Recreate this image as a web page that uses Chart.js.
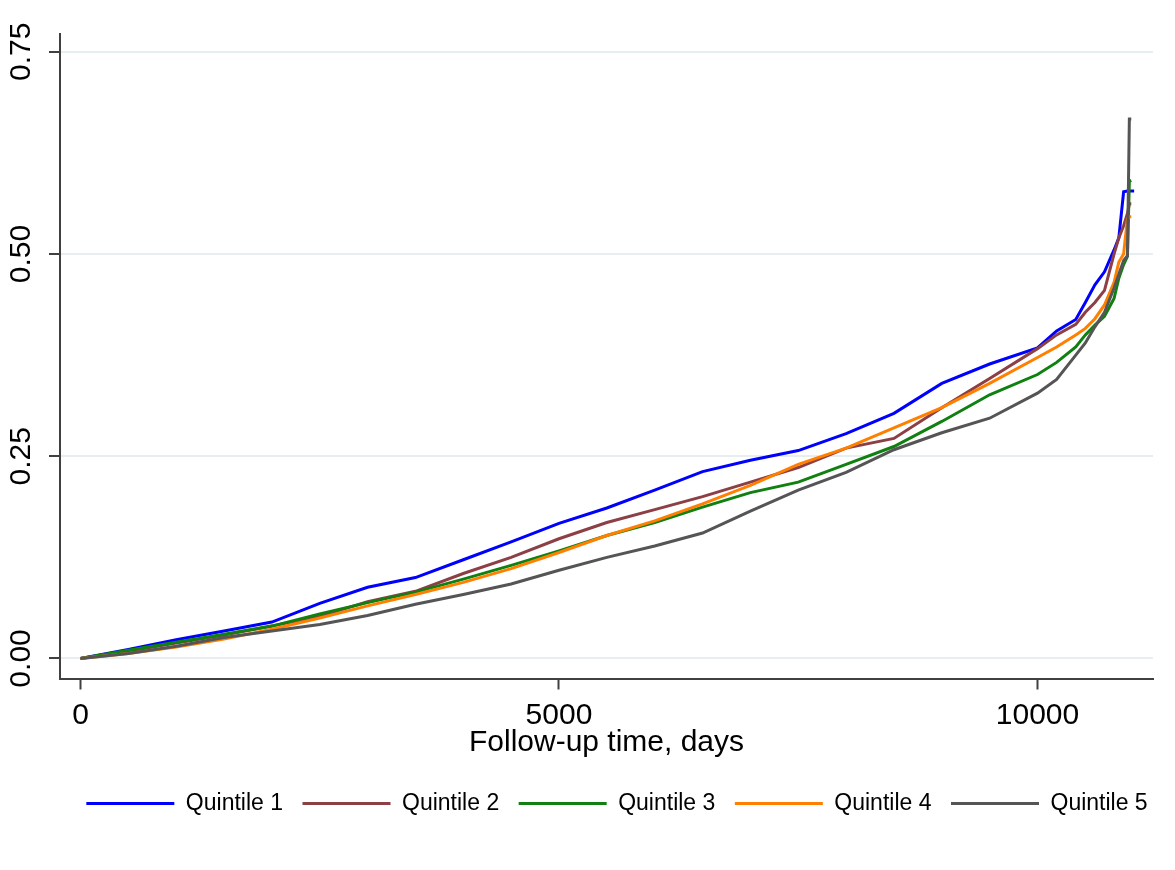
<!DOCTYPE html>
<html>
<head>
<meta charset="utf-8">
<script src="https://cdn.jsdelivr.net/npm/chart.js@4.4.1/dist/chart.umd.min.js"></script>
<style>
  body { margin: 0; background: #fff; }
</style>
</head>
<body>
<canvas id="hazardChart" width="1175" height="870"></canvas>
<script>
const days = [0, 500, 1000, 1500, 2000, 2500, 3000, 3500, 4000, 4500, 5000, 5500, 6000, 6500, 7000, 7500,
  8000, 8500, 9000, 9500, 10000, 10200, 10400, 10500, 10600, 10700, 10800, 10850, 10900, 10940, 10960, 10980, 11010];

// Cumulative hazard per quintile
const quintile1 = [0, 0.011, 0.023, 0.034, 0.045, 0.068, 0.088, 0.1, 0.122, 0.144, 0.167, 0.186, 0.208, 0.231, 0.245, 0.257,
  0.278, 0.303, 0.34, 0.364, 0.384, 0.405, 0.419, 0.44, 0.462, 0.478, 0.505, 0.52, 0.577, 0.578, 0.578, 0.578, 0.578];
const quintile2 = [0, 0.009, 0.019, 0.029, 0.04, 0.052, 0.07, 0.083, 0.105, 0.125, 0.148, 0.168, 0.184, 0.2, 0.218, 0.236,
  0.26, 0.272, 0.31, 0.346, 0.383, 0.4, 0.413, 0.428, 0.44, 0.455, 0.5, 0.52, 0.535, 0.55, 0.562, 0.562, null];
const quintile3 = [0, 0.01, 0.02, 0.03, 0.04, 0.055, 0.069, 0.082, 0.098, 0.115, 0.133, 0.152, 0.168, 0.187, 0.205, 0.218,
  0.24, 0.262, 0.293, 0.326, 0.351, 0.366, 0.385, 0.4, 0.412, 0.423, 0.445, 0.47, 0.487, 0.497, 0.59, 0.591, null];
const quintile4 = [0, 0.006, 0.014, 0.024, 0.036, 0.05, 0.065, 0.079, 0.094, 0.111, 0.131, 0.152, 0.17, 0.191, 0.214, 0.24,
  0.26, 0.285, 0.31, 0.34, 0.372, 0.385, 0.4, 0.408, 0.42, 0.437, 0.465, 0.49, 0.5, 0.544, 0.546, 0.546, null];
const quintile5 = [0, 0.006, 0.015, 0.026, 0.034, 0.042, 0.053, 0.067, 0.079, 0.092, 0.109, 0.125, 0.139, 0.155, 0.182, 0.208,
  0.23, 0.258, 0.279, 0.297, 0.328, 0.345, 0.375, 0.39, 0.41, 0.428, 0.458, 0.475, 0.492, 0.498, 0.667, 0.667, null];

const seriesNames = ['Quintile 1', 'Quintile 2', 'Quintile 3', 'Quintile 4', 'Quintile 5'];
const xTicks = [0, 5000, 10000];
const yTicks = [0, 0.25, 0.5, 0.75];

const lineColors = ['#0000ff', '#8c3f45', '#108010', '#ff8000', '#555555'];
const FONT = '"Liberation Sans", Arial, sans-serif';

const allSeries = [quintile1, quintile2, quintile3, quintile4, quintile5];

const datasets = allSeries.map((vals, i) => ({
    label: seriesNames[i],
    data: days.map((d, j) => ({ x: d, y: vals[j] })),
    borderColor: lineColors[i],
    backgroundColor: lineColors[i],
    borderWidth: 3,
    pointRadius: 0,
    tension: 0,
    spanGaps: false,
    order: allSeries.length - i   // Stata draws quintile 5 on top
}));

// y tick labels are rotated in the original, Chart.js can't rotate vertical-axis labels
const rotatedYLabels = {
    id: 'rotatedYLabels',
    afterDraw(chart) {
        const ctx = chart.ctx;
        const yScale = chart.scales.y;
        ctx.save();
        ctx.font = '30px ' + FONT;
        ctx.fillStyle = '#000';
        ctx.textAlign = 'center';
        ctx.textBaseline = 'middle';
        yTicks.forEach(v => {
            ctx.save();
            ctx.translate(22, yScale.getPixelForValue(v));
            ctx.rotate(-Math.PI / 2);
            ctx.fillText(v.toFixed(2), 0, 0);
            ctx.restore();
        });
        ctx.restore();
    }
};

// nudge the legend a bit right, like the original
const legendShift = {
    id: 'legendShift',
    afterLayout(chart) {
        chart.legend.left += 16;
        chart.legend.right += 16;
    }
};

new Chart(document.getElementById('hazardChart'), {
    type: 'line',
    data: { datasets: datasets },
    options: {
        responsive: false,
        animation: false,
        layout: { padding: { top: 34, left: 49, right: 22, bottom: 45 } },
        scales: {
            x: {
                type: 'linear',
                min: -214,
                max: 11207,
                afterBuildTicks: axis => { axis.ticks = xTicks.map(v => ({ value: v })); },
                grid: { drawOnChartArea: false, drawTicks: true, tickLength: 11, tickColor: '#404040', tickWidth: 2 },
                border: { color: '#404040', width: 2 },
                ticks: {
                    color: '#000', padding: 11, maxRotation: 0,
                    font: { family: FONT, size: 30, lineHeight: 1 },
                    callback: v => String(v)
                },
                title: {
                    display: true,
                    text: 'Follow-up time, days',
                    color: '#000',
                    font: { family: FONT, size: 30, lineHeight: 1 },
                    padding: { top: -14, bottom: 15 }
                }
            },
            y: {
                type: 'linear',
                min: -0.0248,
                max: 0.772,
                afterBuildTicks: axis => { axis.ticks = yTicks.map(v => ({ value: v })); },
                grid: { color: '#e6eef0', lineWidth: 2, drawTicks: true, tickLength: 11, tickColor: '#404040', tickWidth: 2 },
                border: { color: '#404040', width: 2 },
                ticks: { display: false }
            }
        },
        plugins: {
            legend: {
                position: 'bottom',
                labels: {
                    boxWidth: 88,
                    boxHeight: 3,
                    padding: 19.5,
                    color: '#000',
                    font: { family: FONT, size: 23 },
                    sort: (a, b) => a.datasetIndex - b.datasetIndex,
                    generateLabels: chart => Chart.defaults.plugins.legend.labels.generateLabels(chart)
                        .map(item => ({ ...item, fillStyle: item.strokeStyle, lineWidth: 0 }))
                }
            },
            tooltip: { enabled: false }
        }
    },
    plugins: [rotatedYLabels, legendShift]
});
</script>
</body>
</html>
